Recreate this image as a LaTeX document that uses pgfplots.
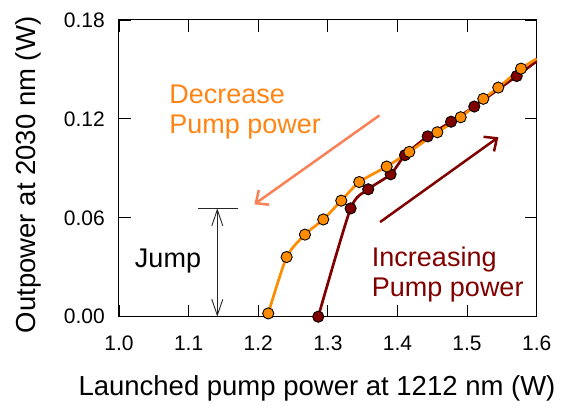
\documentclass[border=0pt]{standalone}
\usepackage{pgfplots}
\pgfplotsset{compat=1.18}
\usepackage{fontspec}
\setmainfont{Liberation Sans}
\usetikzlibrary{arrows.meta}
\definecolor{dorange}{RGB}{255,140,0}
\definecolor{dred}{RGB}{128,0,0}
\definecolor{txtorange}{RGB}{255,132,20}
\definecolor{coralarrow}{RGB}{250,128,85}
\begin{document}
\begin{tikzpicture}
\useasboundingbox (-119pt,-89.3pt) rectangle (442pt,316.7pt);
\begin{axis}[
  at={(0,0)}, anchor=south west,
  scale only axis, width=417.7pt, height=296.7pt,
  xmin=1.0, xmax=1.6, ymin=0, ymax=0.18,
  xtick={1.0,1.1,1.2,1.3,1.4,1.5,1.6},
  xticklabels={1.0,1.1,1.2,1.3,1.4,1.5,1.6},
  ytick={0,0.06,0.12,0.18},
  yticklabels={0.00,0.06,0.12,0.18},
  tick align=inside, major tick length=12pt,
  xtick pos=both, ytick pos=both,
  xticklabel pos=lower, yticklabel pos=left,
  tick style={black, line width=0.9pt},
  axis line style={line width=1pt},
  ticklabel style={font=\fontsize{21}{25}\selectfont},
  xticklabel style={anchor=base, yshift=-33.3pt},
  yticklabel style={anchor=east, inner sep=0pt, xshift=-14pt},
  /pgf/number format/assume math mode=true,
  xlabel={Launched pump power at 1212 nm (W)},
  ylabel={Outpower at 2030 nm (W)},
  label style={font=\fontsize{27.5}{30}\selectfont},
  xlabel style={at={(axis description cs:0.474,-0.267)}, anchor=base},
  ylabel style={at={(axis description cs:-0.201,0.478)}, anchor=base},
  clip=false,
]
% lines
\addplot[dred, line width=2.7pt, smooth, tension=0.4, no markers] coordinates {
 (1.2862,0.0000) (1.3327,0.0657) (1.3580,0.0773) (1.3902,0.0864) (1.4108,0.0980)
 (1.4434,0.1094) (1.4770,0.1183) (1.5103,0.1275) (1.5713,0.1460) (1.6000,0.1550)
};
\addplot[dorange, line width=2.7pt, smooth, tension=0.4, no markers] coordinates {
 (1.2144,0.0020) (1.2408,0.0362) (1.2671,0.0498) (1.2934,0.0590) (1.3193,0.0704)
 (1.3451,0.0817) (1.3845,0.0911) (1.4170,0.1000) (1.4573,0.1119) (1.4908,0.1210)
 (1.5233,0.1322) (1.5448,0.1390) (1.5775,0.1505) (1.6000,0.1565)
};
% markers
\addplot[only marks, mark=*, mark size=5.6pt, mark options={fill=dred, draw=black, line width=0.9pt}] coordinates {
 (1.2862,0.0000) (1.3327,0.0657) (1.3580,0.0773) (1.3902,0.0864) (1.4108,0.0980)
 (1.4434,0.1094) (1.4770,0.1183) (1.5103,0.1275) (1.5713,0.1460)
};
\addplot[only marks, mark=*, mark size=5.6pt, mark options={fill=dorange, draw=black, line width=0.9pt}] coordinates {
 (1.2144,0.0020) (1.2408,0.0362) (1.2671,0.0498) (1.2934,0.0590) (1.3193,0.0704)
 (1.3451,0.0817) (1.3845,0.0911) (1.4170,0.1000) (1.4573,0.1119) (1.4908,0.1210)
 (1.5233,0.1322) (1.5448,0.1390) (1.5775,0.1505)
};
% annotations
\draw[coralarrow, line width=2.5pt, -{Straight Barb[length=10pt,width=18pt]}] (axis cs:1.374,0.1221) -- (axis cs:1.1944,0.0682);
\draw[dred, line width=2.5pt, -{Straight Barb[length=10pt,width=18pt]}] (axis cs:1.375,0.0574) -- (axis cs:1.545,0.1089);
\draw[black!85, line width=0.9pt] (axis cs:1.1135,0.0657) -- (axis cs:1.1710,0.0657);
\draw[black!85, line width=0.9pt, {Straight Barb[length=16pt,width=11pt]}-{Straight Barb[length=16pt,width=11pt]}] (axis cs:1.1412,0.0657) -- (axis cs:1.1412,0);
\node[anchor=base, inner sep=0pt, font=\fontsize{27}{30}\selectfont] at (axis cs:1.0704,0.0297) {Jump};
\node[anchor=base west, inner sep=0pt, align=left, text=txtorange, font=\fontsize{27}{30}\selectfont] at (axis cs:1.0722,0.1109) {Decrease\\Pump power};
\node[anchor=base west, inner sep=0pt, align=left, text=dred, font=\fontsize{27}{30}\selectfont] at (axis cs:1.3631,0.0120) {Increasing\\Pump power};
\end{axis}
\end{tikzpicture}
\end{document}
